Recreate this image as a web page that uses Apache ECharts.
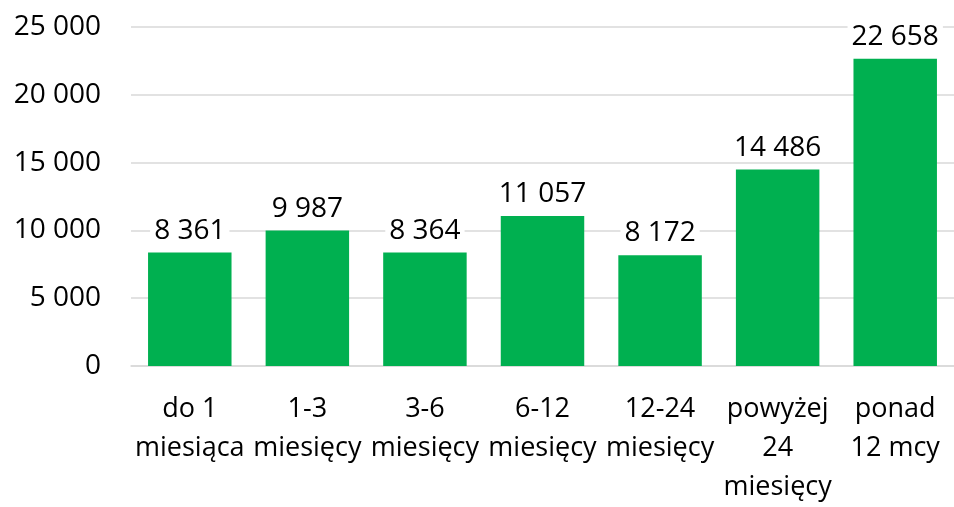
<!DOCTYPE html>
<html>
<head>
<meta charset="utf-8">
<script src="https://cdn.jsdelivr.net/npm/echarts@6/dist/echarts.min.js"></script>
<style>
  html, body { margin: 0; padding: 0; background: #fff; }
  #chart { width: 954px; height: 507px; }
</style>
</head>
<body>
<div id="chart"></div>
<script>
// dane z wykresu
const categories = [
  "do 1\nmiesiąca",
  "1-3\nmiesięcy",
  "3-6\nmiesięcy",
  "6-12\nmiesięcy",
  "12-24\nmiesięcy",
  "powyżej\n24\nmiesięcy",
  "ponad\n12 mcy",
];
const values = [8361, 9987, 8364, 11057, 8172, 14486, 22658];
const yTicks = [0, 5000, 10000, 15000, 20000, 25000];

const fmt = (v) => String(v).replace(/\B(?=(\d{3})+(?!\d))/g, " ");
const font = "'Open Sans', 'Noto Sans', sans-serif";

const chart = echarts.init(document.getElementById("chart"), null, { renderer: "canvas" });

const option = {
  backgroundColor: "#fff",
  animation: false,
  grid: {
    left: 131,
    top: 27,
    width: 830,
    height: 344,
    containLabel: false,
  },
  xAxis: {
    type: "category",
    data: categories,
    axisLine: { lineStyle: { color: "#d9d9d9", width: 1.5 } },
    axisTick: { show: false },
    axisLabel: {
      interval: 0,
      color: "#000",
      fontFamily: font,
      fontSize: 27,
      lineHeight: 39,
      margin: 24,
    },
  },
  yAxis: {
    type: "value",
    min: yTicks[0],
    max: yTicks[yTicks.length - 1],
    interval: 5000,
    axisLine: { show: false },
    axisTick: { show: false },
    splitLine: { lineStyle: { color: "#d9d9d9", width: 1.5 } },
    axisLabel: {
      color: "#000",
      fontFamily: font,
      fontSize: 28,
      margin: 30,
      formatter: (v) => fmt(v),
    },
  },
  series: [
    {
      type: "bar",
      data: values,
      barWidth: "71%",
      itemStyle: { color: "#00B050" },
      label: {
        show: true,
        position: "top",
        distance: 8,
        color: "#000",
        fontFamily: font,
        fontSize: 28,
        backgroundColor: "#fff",
        padding: [0, 4],
        formatter: (p) => fmt(p.value),
      },
    },
  ],
};

chart.setOption(option);
</script>
</body>
</html>
